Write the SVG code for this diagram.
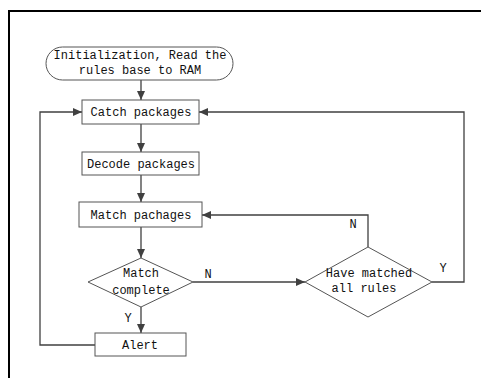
<svg xmlns="http://www.w3.org/2000/svg" width="481" height="378" viewBox="0 0 481 378">
<defs>
<marker id="ah" markerWidth="9" markerHeight="8" refX="9" refY="4" orient="auto" markerUnits="userSpaceOnUse">
<path d="M0,0 L9,4 L0,8 Z" fill="#404040"/>
</marker>
<style>
.n{fill:#fff;stroke:#555;stroke-width:1}
.t{font-family:"Liberation Mono","DejaVu Sans Mono",monospace;font-size:12px;fill:#111;text-anchor:middle}
.c{fill:none;stroke:#404040;stroke-width:1.3}
.a{marker-end:url(#ah)}
</style>
</defs>
<rect x="0" y="0" width="481" height="378" fill="#fff"/>
<path d="M9,378 V11 H481" fill="none" stroke="#000" stroke-width="2"/>
<g id="connectors">
<path class="c a" d="M141,80 V100"/>
<path class="c a" d="M141,124 V152"/>
<path class="c a" d="M141,175 V202"/>
<path class="c a" d="M141,227 V258"/>
<path class="c a" d="M141,307 V333"/>
<path class="c a" d="M193,282 H305"/>
<path class="c a" d="M368,247 V215 H202"/>
<path class="c a" d="M432,282 H464 V112 H199"/>
<path class="c a" d="M95,345 H40 V112 H82"/>
<text class="t" x="208" y="278">N</text>
<text class="t" x="353" y="228">N</text>
<text class="t" x="443" y="272">Y</text>
<text class="t" x="128" y="322">Y</text>
</g>
<g id="start">
<rect class="n" x="46" y="47" width="187" height="33" rx="16.5" ry="16.5"/>
<text class="t" x="140" y="59">Initialization, Read the</text>
<text class="t" x="140" y="74">rules base to RAM</text>
</g>
<g id="catch">
<rect class="n" x="82" y="100" width="117" height="24"/>
<text class="t" x="141" y="116">Catch packages</text>
</g>
<g id="decode">
<rect class="n" x="82" y="152" width="117" height="23"/>
<text class="t" x="141" y="168">Decode packages</text>
</g>
<g id="match">
<rect class="n" x="79" y="202" width="123" height="25"/>
<text class="t" x="141" y="219">Match pachages</text>
</g>
<g id="complete">
<path class="n" d="M141,258 L193,282 L141,307 L88,282 Z"/>
<text class="t" x="141" y="277">Match</text>
<text class="t" x="141" y="294">complete</text>
</g>
<g id="allrules">
<path class="n" d="M368,247 L432,282 L368,317 L305,282 Z"/>
<text class="t" x="369" y="277">Have matched</text>
<text class="t" x="364" y="292">all rules</text>
</g>
<g id="alert">
<rect class="n" x="95" y="333" width="91" height="23"/>
<text class="t" x="140" y="349">Alert</text>
</g>
</svg>
